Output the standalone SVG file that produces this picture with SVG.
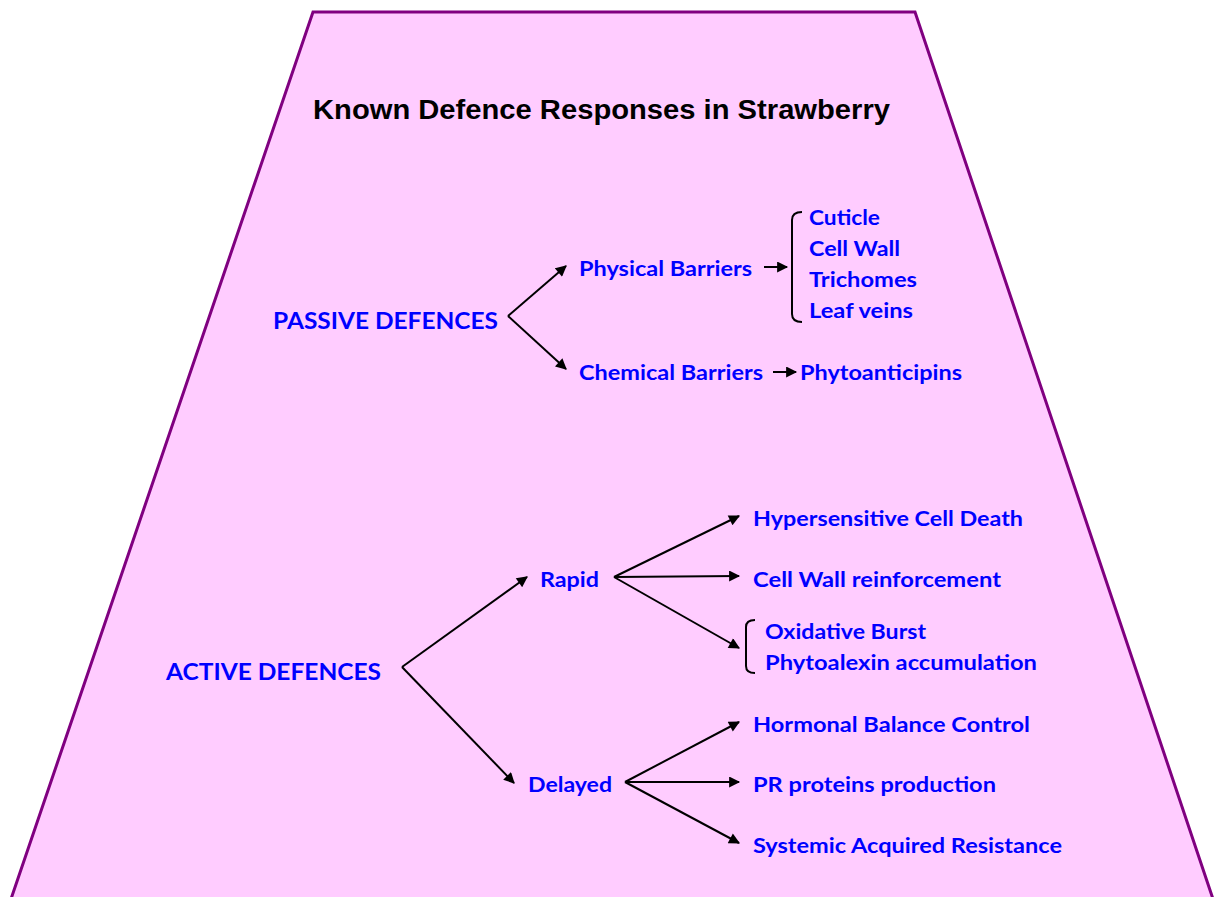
<svg xmlns="http://www.w3.org/2000/svg" width="1214" height="897" viewBox="0 0 1214 897">
<defs>
<style>
.t{font-family:Lato,"Open Sans","Liberation Sans",sans-serif;font-weight:bold;fill:#0000FF;font-size:20px}
.h{font-size:23px}
.title{font-family:"Liberation Sans",Arial,sans-serif;font-weight:bold;fill:#000;font-size:27px}
.c{stroke:#000;stroke-width:2;fill:none}
.a{marker-end:url(#arr)}
</style>
<marker id="arr" viewBox="0 0 10 10" refX="9" refY="5" markerWidth="6.5" markerHeight="5.5" markerUnits="strokeWidth" orient="auto">
<path d="M0,0 L10,5 L0,10 z" fill="#000"/>
</marker>
</defs>
<rect width="1214" height="897" fill="#fff"/>
<g id="background">
<path d="M313,12 L915,12 L1213,899 L11,899 Z" fill="#FFCCFF" stroke="#800080" stroke-width="3"/>
</g>
<g id="title"><text class="title" x="313" y="119" textLength="577" lengthAdjust="spacingAndGlyphs">Known Defence Responses in Strawberry</text></g>
<g id="passive"><text class="t h" x="273" y="329" textLength="225" lengthAdjust="spacingAndGlyphs">PASSIVE DEFENCES</text></g>
<g id="physical"><text class="t" x="579" y="276" textLength="173" lengthAdjust="spacingAndGlyphs">Physical Barriers</text></g>
<g id="chemical"><text class="t" x="579" y="380" textLength="184" lengthAdjust="spacingAndGlyphs">Chemical Barriers</text></g>
<g id="phytoanticipins"><text class="t" x="800" y="380" textLength="162" lengthAdjust="spacingAndGlyphs">Phytoanticipins</text></g>
<g id="physical-list">
<path class="c" d="M802,212 Q792,212 792,220 L792,314 Q792,322 802,322" stroke-width="1.8"/>
<text class="t" x="809" y="225" textLength="71" lengthAdjust="spacingAndGlyphs">Cuticle</text>
<text class="t" x="809" y="256" textLength="91" lengthAdjust="spacingAndGlyphs">Cell Wall</text>
<text class="t" x="809" y="287" textLength="108" lengthAdjust="spacingAndGlyphs">Trichomes</text>
<text class="t" x="809" y="318" textLength="104" lengthAdjust="spacingAndGlyphs">Leaf veins</text>
</g>
<g id="active"><text class="t h" x="166" y="680" textLength="215" lengthAdjust="spacingAndGlyphs">ACTIVE DEFENCES</text></g>
<g id="rapid"><text class="t" x="540" y="587" textLength="59" lengthAdjust="spacingAndGlyphs">Rapid</text></g>
<g id="delayed"><text class="t" x="528" y="792" textLength="84" lengthAdjust="spacingAndGlyphs">Delayed</text></g>
<g id="hypersensitive"><text class="t" x="753" y="526" textLength="270" lengthAdjust="spacingAndGlyphs">Hypersensitive Cell Death</text></g>
<g id="cellwall-reinf"><text class="t" x="753" y="587" textLength="248" lengthAdjust="spacingAndGlyphs">Cell Wall reinforcement</text></g>
<g id="rapid-list">
<path class="c" d="M755,620 Q746,620 746,627 L746,666 Q746,673 755,673" stroke-width="1.8"/>
<text class="t" x="765" y="639" textLength="161" lengthAdjust="spacingAndGlyphs">Oxidative Burst</text>
<text class="t" x="765" y="670" textLength="272" lengthAdjust="spacingAndGlyphs">Phytoalexin accumulation</text>
</g>
<g id="hormonal"><text class="t" x="753" y="732" textLength="277" lengthAdjust="spacingAndGlyphs">Hormonal Balance Control</text></g>
<g id="pr"><text class="t" x="753" y="792" textLength="243" lengthAdjust="spacingAndGlyphs">PR proteins production</text></g>
<g id="sar"><text class="t" x="753" y="853" textLength="309" lengthAdjust="spacingAndGlyphs">Systemic Acquired Resistance</text></g>
<g id="connectors">
<path class="c a" d="M508,316 L566,266"/>
<path class="c a" d="M508,316 L566,369"/>
<path class="c a" d="M764,267 L787,267"/>
<path class="c a" d="M773,372 L796,372"/>
<path class="c a" d="M402,667 L527,577"/>
<path class="c a" d="M402,667 L514,783"/>
<path class="c a" d="M614,577 L739,516"/>
<path class="c a" d="M614,577 L739,576"/>
<path class="c a" d="M614,577 L739,648"/>
<path class="c a" d="M625,782 L739,722"/>
<path class="c a" d="M625,782 L739,782"/>
<path class="c a" d="M625,782 L739,843"/>
</g>
</svg>
